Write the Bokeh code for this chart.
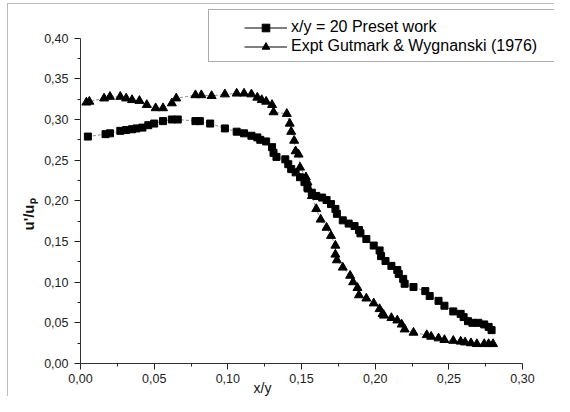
import math
from bokeh.plotting import figure
from bokeh.models import (Range1d, FixedTicker, CustomJSTickFormatter, Legend, LegendItem,
                          Label)
from bokeh.embed import file_html
from bokeh.resources import INLINE

# ---- data ----
sq_x = [0.005, 0.017, 0.020, 0.027, 0.031, 0.035, 0.038, 0.042, 0.046, 0.050, 0.056, 0.062,
        0.066, 0.078, 0.081, 0.088, 0.098, 0.106, 0.111, 0.116, 0.120, 0.122, 0.126, 0.130,
        0.131, 0.133, 0.139, 0.141, 0.143, 0.146, 0.149, 0.152, 0.154, 0.157, 0.160, 0.164,
        0.167, 0.170, 0.173, 0.174, 0.178, 0.182, 0.186, 0.189, 0.190, 0.194, 0.199, 0.203,
        0.204, 0.207, 0.211, 0.215, 0.216, 0.219, 0.220, 0.226, 0.234, 0.237, 0.243, 0.247,
        0.253, 0.258, 0.260, 0.263, 0.266, 0.270, 0.274, 0.277, 0.279]
sq_y = [0.279, 0.282, 0.283, 0.286, 0.287, 0.288, 0.289, 0.290, 0.293, 0.295, 0.298, 0.300,
        0.300, 0.298, 0.298, 0.295, 0.289, 0.285, 0.283, 0.280, 0.278, 0.275, 0.273, 0.266,
        0.259, 0.254, 0.251, 0.245, 0.239, 0.235, 0.229, 0.223, 0.216, 0.210, 0.206, 0.204,
        0.201, 0.196, 0.190, 0.184, 0.176, 0.172, 0.169, 0.164, 0.160, 0.153, 0.145, 0.139,
        0.132, 0.126, 0.120, 0.115, 0.110, 0.104, 0.098, 0.094, 0.089, 0.083, 0.077, 0.071,
        0.064, 0.061, 0.057, 0.052, 0.050, 0.050, 0.048, 0.045, 0.041]

tr_x = [0.004, 0.006, 0.016, 0.020, 0.027, 0.031, 0.035, 0.040, 0.045, 0.051, 0.056, 0.062,
        0.065, 0.078, 0.082, 0.089, 0.098, 0.106, 0.111, 0.116, 0.120, 0.123, 0.126, 0.130,
        0.131, 0.140, 0.142, 0.143, 0.145, 0.146, 0.148, 0.149, 0.153, 0.154, 0.155, 0.157,
        0.160, 0.163, 0.167, 0.170, 0.173, 0.173, 0.174, 0.178, 0.183, 0.185, 0.188, 0.189,
        0.194, 0.199, 0.203, 0.205, 0.206, 0.211, 0.215, 0.218, 0.220, 0.226, 0.235, 0.238,
        0.243, 0.247, 0.253, 0.258, 0.261, 0.265, 0.269, 0.274, 0.277, 0.280]
tr_y = [0.321, 0.322, 0.326, 0.328, 0.328, 0.326, 0.324, 0.323, 0.318, 0.314, 0.314, 0.320,
        0.326, 0.330, 0.330, 0.329, 0.331, 0.332, 0.332, 0.331, 0.327, 0.324, 0.322, 0.318,
        0.309, 0.307, 0.295, 0.285, 0.274, 0.261, 0.257, 0.241, 0.229, 0.223, 0.214, 0.206,
        0.190, 0.177, 0.167, 0.157, 0.145, 0.134, 0.127, 0.118, 0.108, 0.100, 0.093, 0.084,
        0.080, 0.074, 0.067, 0.061, 0.059, 0.056, 0.053, 0.048, 0.042, 0.038, 0.035, 0.033,
        0.031, 0.029, 0.028, 0.027, 0.026, 0.025, 0.024, 0.024, 0.024, 0.024]

x_ticks = [0.0, 0.05, 0.10, 0.15, 0.20, 0.25, 0.30]
y_ticks = [0.0, 0.05, 0.10, 0.15, 0.20, 0.25, 0.30, 0.35, 0.40]
x_minor = [0.025, 0.075, 0.125, 0.175, 0.225, 0.275]
y_minor = [0.025, 0.075, 0.125, 0.175, 0.225, 0.275, 0.325, 0.375]
label_sq = "x/y = 20 Preset work"
label_tr = "Expt Gutmark & Wygnanski (1976)"
x_title = "x/y"
y_title = "u'/u\u209a"

FONT = "Liberation Sans"
W, H = 554, 396

# frame covers the whole canvas; axes are pinned at 0 with fixed_location
p = figure(width=W, height=H, output_backend="svg", toolbar_location=None,
           x_range=Range1d(-0.0543, 0.3217), y_range=Range1d(-0.0406, 0.4463),
           min_border_left=0, min_border_right=0, min_border_top=0, min_border_bottom=0)
p.outline_line_color = None
p.grid.visible = False
p.background_fill_color = "white"
p.border_fill_color = "white"

fmt = CustomJSTickFormatter(code="return tick.toFixed(2).replace('.', ',');")
p.xaxis.ticker = FixedTicker(ticks=x_ticks, minor_ticks=x_minor)
p.yaxis.ticker = FixedTicker(ticks=y_ticks, minor_ticks=y_minor)
p.xaxis.fixed_location = 0
p.yaxis.fixed_location = 0
p.xaxis.bounds = (0, 0.30)
p.yaxis.bounds = (0, 0.40)
for ax in (p.xaxis[0], p.yaxis[0]):
    ax.formatter = fmt
    ax.major_tick_out = 6
    ax.major_tick_in = 0
    ax.minor_tick_out = 3
    ax.minor_tick_in = 0
    ax.axis_line_color = "#333333"
    ax.major_tick_line_color = "#222222"
    ax.minor_tick_line_color = "#222222"
    ax.major_label_text_font = FONT
    ax.major_label_text_font_size = "12.5px"
    ax.major_label_text_color = "#222222"
p.xaxis.major_label_standoff = 5
p.yaxis.major_label_standoff = 6

# data lines (thin dashed) and markers
p.line(sq_x, sq_y, line_color="#444444", line_width=0.6, line_dash="3 2")
p.line(tr_x, tr_y, line_color="#444444", line_width=0.6, line_dash="3 2")
r_sq = p.scatter(sq_x, sq_y, marker="square", size=7, fill_color="black", line_color="black")
r_tr = p.scatter(tr_x, tr_y, marker="triangle", size=9, fill_color="black", line_color="black")

# legend-only solid lines (not drawn in the plot)
leg_line1 = p.line(sq_x, sq_y, line_color="black", line_width=1, visible=False)
leg_line2 = p.line(tr_x, tr_y, line_color="black", line_width=1, visible=False)
# an invisible renderer, used only to give the frame boxes an (empty) item
ghost = p.line(sq_x, sq_y, line_alpha=0, visible=False)

# outer picture frame (its right and bottom edges lie beyond the canvas)
outer = Legend(items=[LegendItem(label=" ", renderers=[ghost])],
               location=(7, H - 412), padding=0, margin=0, spacing=0,
               glyph_width=20, glyph_height=407, label_height=407, label_width=560,
               label_standoff=0, label_text_font_size="10px",
               border_line_color="#7a7a7a", border_line_width=1.3,
               background_fill_alpha=0)
p.add_layout(outer)

# legend box (its right edge lies beyond the canvas)
box = Legend(items=[LegendItem(label=" ", renderers=[ghost])],
             location=(208, H - 62), padding=0, margin=0, spacing=0,
             glyph_width=20, glyph_height=51, label_height=51, label_width=420,
             label_standoff=0, label_text_font_size="10px",
             border_line_color="#5a5a5a", border_line_width=1.5,
             background_fill_alpha=0)
p.add_layout(box)

legend = Legend(items=[LegendItem(label=label_sq, renderers=[leg_line1, r_sq]),
                       LegendItem(label=label_tr, renderers=[leg_line2, r_tr])],
                location=(244, H - 55.5), padding=0, margin=0, spacing=0,
                label_height=19, glyph_height=19, glyph_width=43, label_standoff=4,
                border_line_color=None, background_fill_alpha=0,
                label_text_font=FONT, label_text_font_size="16px", label_text_color="black")
p.add_layout(legend)

p.add_layout(Label(x=262, x_units="screen", y=H - 387, y_units="screen", text=x_title,
                   text_font=FONT, text_font_size="14px", text_align="center",
                   text_baseline="middle", text_color="#111111"))
p.add_layout(Label(x=28, x_units="screen", y=H - 214, y_units="screen", text=y_title,
                   angle=math.pi / 2, text_font=FONT, text_font_size="15px",
                   text_font_style="bold", text_align="center", text_baseline="middle",
                   text_color="#111111"))

open("out.html", "w").write(file_html(p, INLINE))
